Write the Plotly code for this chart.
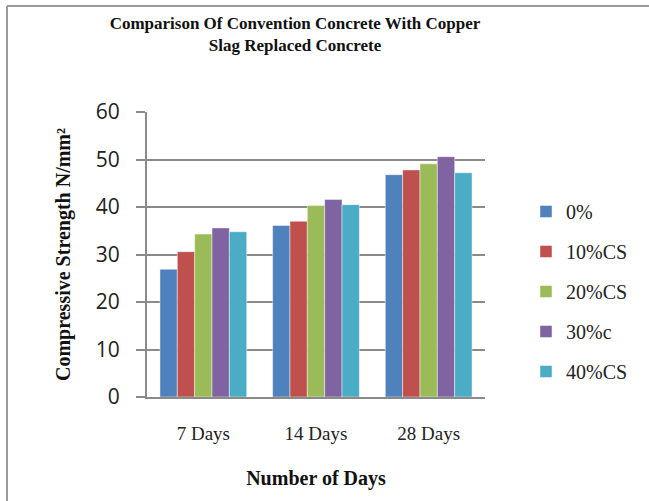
import plotly.graph_objects as go

# Compressive strength (N/mm²) by curing age and copper slag replacement level
days = ["7 Days", "14 Days", "28 Days"]
series_names = ["0%", "10%CS", "20%CS", "30%c", "40%CS"]
cs_0 = [26.9, 36.1, 46.8]
cs_10 = [30.6, 37.0, 47.8]
cs_20 = [34.3, 40.3, 49.1]
cs_30 = [35.6, 41.6, 50.6]
cs_40 = [34.8, 40.5, 47.2]
colors = ["#4F81BD", "#C0504D", "#9BBB59", "#8064A2", "#4BACC6"]

values = [cs_0, cs_10, cs_20, cs_30, cs_40]

serif = "Liberation Serif, Times New Roman, serif"
sans = "Open Sans, Noto Sans, sans-serif"

fig = go.Figure()
for name, vals, col in zip(series_names, values, colors):
    fig.add_trace(go.Bar(
        x=days, y=vals, name=name, legendgroup=name,
        marker=dict(color=col, line=dict(color="rgba(255,255,255,0.45)", width=1)),
    ))

W, H = 649, 501
L, R, T, B = 147, 164, 112, 104
pw, ph = W - L - R, H - T - B

def px_x(p):
    return (p - L) / pw

def px_y(p):
    return (H - B - p) / ph

fig.update_layout(
    width=W, height=H,
    margin=dict(l=L, r=R, t=T, b=B),
    paper_bgcolor="white", plot_bgcolor="white",
    barmode="group", bargap=0.23, bargroupgap=0,
    title=dict(
        text="<b>Comparison Of Convention Concrete With Copper<br>Slag Replaced Concrete</b>",
        font=dict(family=serif, size=17, color="#111"),
        x=px_x(295), xref="paper", xanchor="center",
        y=0.943, yref="container", yanchor="top",
    ),
    legend=dict(
        x=px_x(526), y=px_y(291.5), xanchor="left", yanchor="middle",
        font=dict(family=serif, size=20, color="#222"),
        traceorder="grouped", tracegroupgap=11,
        bgcolor="rgba(0,0,0,0)", itemwidth=30,
    ),
    xaxis=dict(
        showline=True, linecolor="#8a8a8a", linewidth=2,
        ticks="", ticklabelstandoff=18,
        tickfont=dict(family=serif, size=19, color="#222"),
        title=dict(text="<b>Number of Days</b>", font=dict(family=serif, size=20, color="#111"),
                   standoff=28),
    ),
    yaxis=dict(
        range=[0, 60], dtick=10,
        showgrid=True, gridcolor="#8a8a8a", gridwidth=2,
        showline=True, linecolor="#8a8a8a", linewidth=2,
        ticks="outside", ticklen=9, tickcolor="#8a8a8a", tickwidth=2,
        ticklabelstandoff=12,
        tickfont=dict(family=sans, size=21, color="#222"),
        title=dict(text="<b>Compressive Strength N/mm²</b>",
                   font=dict(family=serif, size=20, color="#111"), standoff=20),
        zeroline=False,
    ),
    shapes=[
        # frame edges
        dict(type="line", xref="paper", yref="paper",
             x0=px_x(7), x1=px_x(7), y0=px_y(6), y1=px_y(520),
             line=dict(color="#9a9a9a", width=2)),
        dict(type="line", xref="paper", yref="paper",
             x0=px_x(7), x1=px_x(660), y0=px_y(6), y1=px_y(6),
             line=dict(color="#9a9a9a", width=2)),
    ],
)

fig.write_html("out.html")
